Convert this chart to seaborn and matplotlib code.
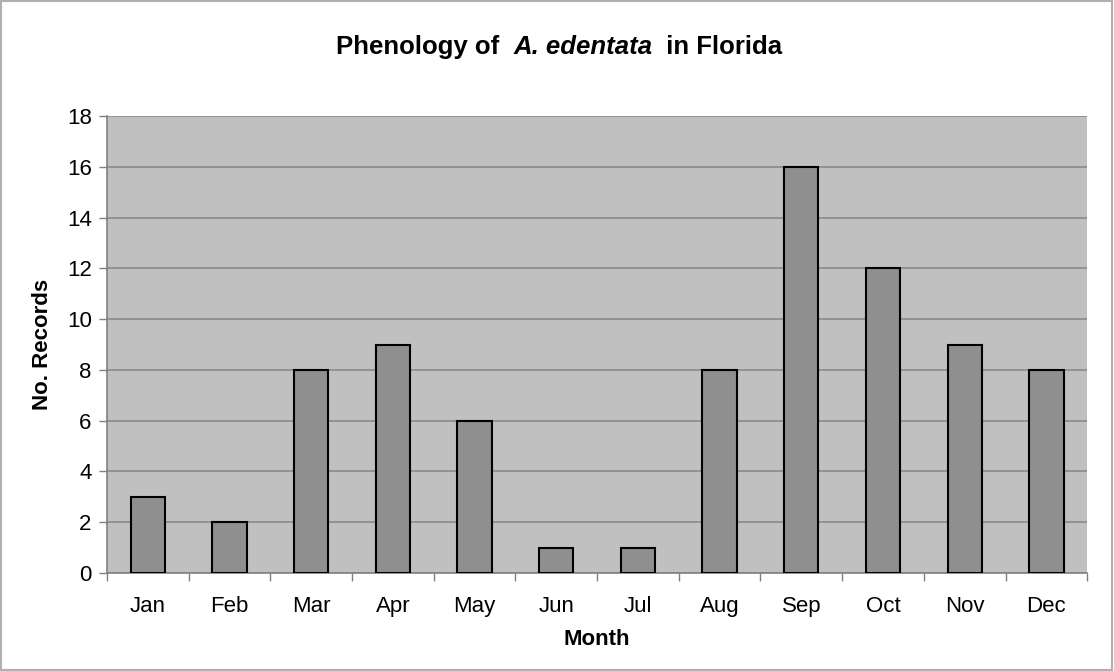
import matplotlib
matplotlib.use("Agg")
import matplotlib.pyplot as plt
import seaborn as sns
import pandas as pd
import numpy as np
from matplotlib.patches import Rectangle

# Data
months = ['Jan', 'Feb', 'Mar', 'Apr', 'May', 'Jun', 'Jul', 'Aug', 'Sep', 'Oct', 'Nov', 'Dec']
records = [3, 2, 8, 9, 6, 1, 1, 8, 16, 12, 9, 8]
y_ticks = [0, 2, 4, 6, 8, 10, 12, 14, 16, 18]

df = pd.DataFrame({'Month': months, 'Records': records})

sns.set_style('white')
plt.rcParams['font.family'] = ['Liberation Sans', 'DejaVu Sans']
plt.rcParams['text.color'] = 'black'
plt.rcParams['axes.labelcolor'] = 'black'
plt.rcParams['xtick.color'] = 'black'
plt.rcParams['ytick.color'] = 'black'

fig = plt.figure(figsize=(11.14, 6.71), dpi=100)
ax = fig.add_axes([0.096, 0.146, 0.880, 0.681])
ax.set_facecolor('#c0c0c0')

sns.barplot(data=df, x='Month', y='Records', color='#8f8f8f', saturation=1,
            width=0.42, edgecolor='black', linewidth=1.5, ax=ax, zorder=3)

ax.set_ylim(0, 18)
ax.set_xlim(-0.5, len(months) - 0.5)
ax.set_yticks(y_ticks)
ax.yaxis.grid(True, color='#8a8a8a', linewidth=1.2, zorder=0)
ax.set_axisbelow(True)

for s in ['top', 'right']:
    ax.spines[s].set_visible(False)
for s in ['left', 'bottom']:
    ax.spines[s].set_color('#808080')
    ax.spines[s].set_linewidth(1.2)

ax.tick_params(axis='y', left=True, length=6, width=1, color='#808080', labelsize=16, pad=5)
ax.tick_params(axis='x', bottom=False, labelsize=16, pad=13)
ax.set_xticks(np.arange(-0.5, len(months), 1), minor=True)
ax.tick_params(axis='x', which='minor', bottom=True, length=6, width=1, color='#808080')

ax.set_xlabel('Month', fontsize=16, fontweight='bold', labelpad=9)
ax.set_ylabel('No. Records', fontsize=16, fontweight='bold', labelpad=10)

# Title with italic species name
t1 = fig.text(0.29, 0.92, 'Phenology of  ', fontsize=18.5, fontweight='bold', va='baseline')
t2 = ax.annotate('A. edentata', xy=(1, 0), xycoords=t1, va='bottom', fontsize=18.5,
                 fontweight='bold', fontstyle='italic', annotation_clip=False)
t3 = ax.annotate('  in Florida', xy=(1, 0), xycoords=t2, va='bottom', fontsize=18.5,
                 fontweight='bold', annotation_clip=False)
fig.canvas.draw()
r = fig.canvas.get_renderer()
x0 = t1.get_window_extent(r).x0
x1 = t3.get_window_extent(r).x1
w = fig.bbox.width
t1.set_x(0.29 + (559 - (x0 + x1) / 2) / w)

fig.patches.append(Rectangle((0.001, 0.001), 0.997, 0.997, transform=fig.transFigure,
                             fill=False, edgecolor='#b0b0b0', linewidth=1.5))

fig.savefig('out.png', dpi=100)
